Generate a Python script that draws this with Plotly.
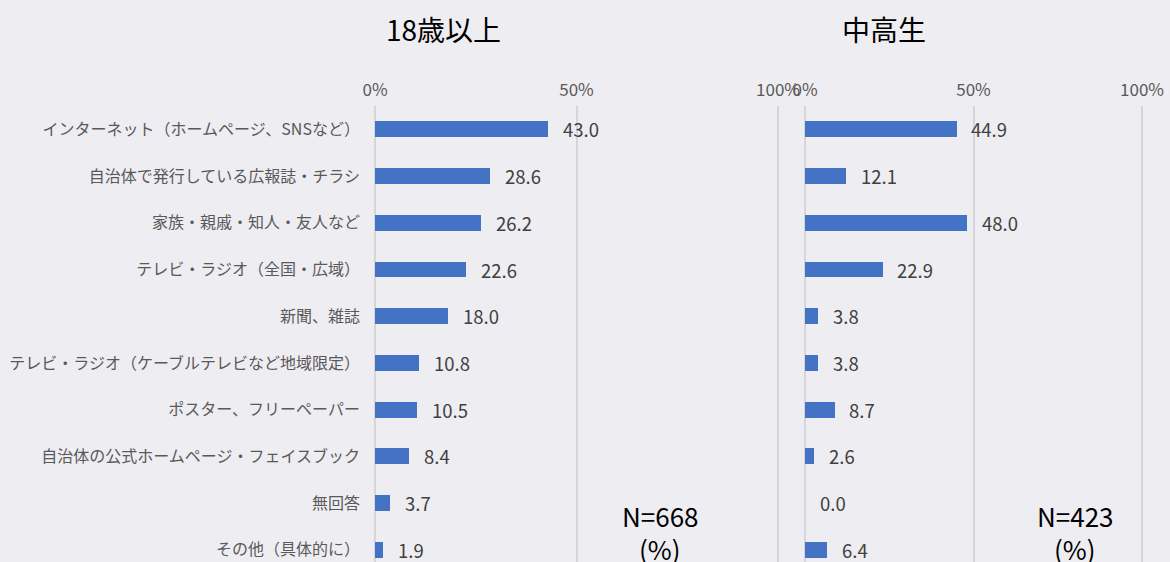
import plotly.graph_objects as go

categories = [
    "インターネット（ホームページ、SNSなど）",
    "自治体で発行している広報誌・チラシ",
    "家族・親戚・知人・友人など",
    "テレビ・ラジオ（全国・広域）",
    "新聞、雑誌",
    "テレビ・ラジオ（ケーブルテレビなど地域限定）",
    "ポスター、フリーペーパー",
    "自治体の公式ホームページ・フェイスブック",
    "無回答",
    "その他（具体的に）",
]
adult_values = [43.0, 28.6, 26.2, 22.6, 18.0, 10.8, 10.5, 8.4, 3.7, 1.9]
student_values = [44.9, 12.1, 48.0, 22.9, 3.8, 3.8, 8.7, 2.6, 0.0, 6.4]
panel_titles = ["18歳以上", "中高生"]
sample_sizes = ["N=668", "N=423"]
tick_vals = [0, 50, 100]
tick_text = ["0%", "50%", "100%"]

FONT = "Noto Sans CJK JP"
BAR = "#4472C4"
BG = "#EEEDF2"
W, H = 1170, 562
TOP = 106
PH = H - TOP
PAD = 1.0  # axis padding (in %) so edge grid lines are drawn


def py(px):
    """pixel y from top -> paper y (plot area spans TOP..H)"""
    return (H - px) / PH


def domain(p0, p100):
    unit = (p100 - p0) / 100.0
    return [(p0 - PAD * unit) / W, (p100 + PAD * unit) / W]


fig = go.Figure()
fig.add_trace(go.Bar(x=adult_values, y=categories, orientation="h",
                     marker=dict(color=BAR, line=dict(width=0)), width=0.34,
                     xaxis="x", yaxis="y", hoverinfo="x+y"))
fig.add_trace(go.Bar(x=student_values, y=categories, orientation="h",
                     marker=dict(color=BAR, line=dict(width=0)), width=0.34,
                     xaxis="x2", yaxis="y2", hoverinfo="x+y"))

annotations = []
for xref, yref, vals in (("x", "y", adult_values), ("x2", "y2", student_values)):
    for c, v in zip(categories, vals):
        annotations.append(dict(x=v, y=c, xref=xref, yref=yref, text=f"{v:.1f}",
                                showarrow=False, xanchor="left", yanchor="middle",
                                xshift=13,
                                font=dict(family=FONT, size=18.5, color="#404040")))

title_x = [443 / W, 884 / W]
n_x = [660 / W, 1075 / W]
for i in range(2):
    annotations.append(dict(x=title_x[i], y=py(29), xref="paper", yref="paper",
                            text=panel_titles[i], showarrow=False,
                            xanchor="center", yanchor="middle",
                            font=dict(family=FONT, size=28, color="#000000")))
    annotations.append(dict(x=n_x[i], y=py(515), xref="paper", yref="paper",
                            text=sample_sizes[i], showarrow=False,
                            xanchor="center", yanchor="middle",
                            font=dict(family=FONT, size=26, color="#000000")))
    annotations.append(dict(x=n_x[i], y=py(548), xref="paper", yref="paper",
                            text="(%)", showarrow=False,
                            xanchor="center", yanchor="middle",
                            font=dict(family=FONT, size=26, color="#000000")))

xaxis_common = dict(range=[-PAD, 100 + PAD], side="top", tickvals=tick_vals, ticktext=tick_text,
                    showgrid=True, gridcolor="#D6D6D9", gridwidth=1.5, zeroline=False,
                    showline=False, ticks="", fixedrange=True, automargin=False,
                    ticklabelstandoff=6,
                    tickfont=dict(family=FONT, size=17, color="#595959"))
yrange = [9.26, -0.5]

fig.update_layout(
    width=W, height=H,
    paper_bgcolor=BG, plot_bgcolor=BG,
    margin=dict(l=0, r=0, t=TOP, b=0, autoexpand=False),
    showlegend=False,
    bargap=0,
    xaxis=dict(domain=domain(375, 778), anchor="y", **xaxis_common),
    xaxis2=dict(domain=domain(805, 1142), anchor="y2", **xaxis_common),
    yaxis=dict(domain=[0, 1], anchor="x", type="category", range=yrange,
               categoryorder="array", categoryarray=categories,
               showgrid=False, zeroline=False, showline=False, ticks="",
               ticklabelstandoff=10, automargin=False, fixedrange=True,
               tickfont=dict(family=FONT, size=16, color="#595959")),
    yaxis2=dict(domain=[0, 1], anchor="x2", type="category", range=yrange,
                categoryorder="array", categoryarray=categories,
                showgrid=False, zeroline=False, showline=False, ticks="",
                showticklabels=False, automargin=False, fixedrange=True),
    annotations=annotations,
    font=dict(family=FONT),
)

fig.write_html("out.html", config={"displayModeBar": False},
               post_script="document.body.style.margin='0px';document.body.style.overflow='hidden';")
